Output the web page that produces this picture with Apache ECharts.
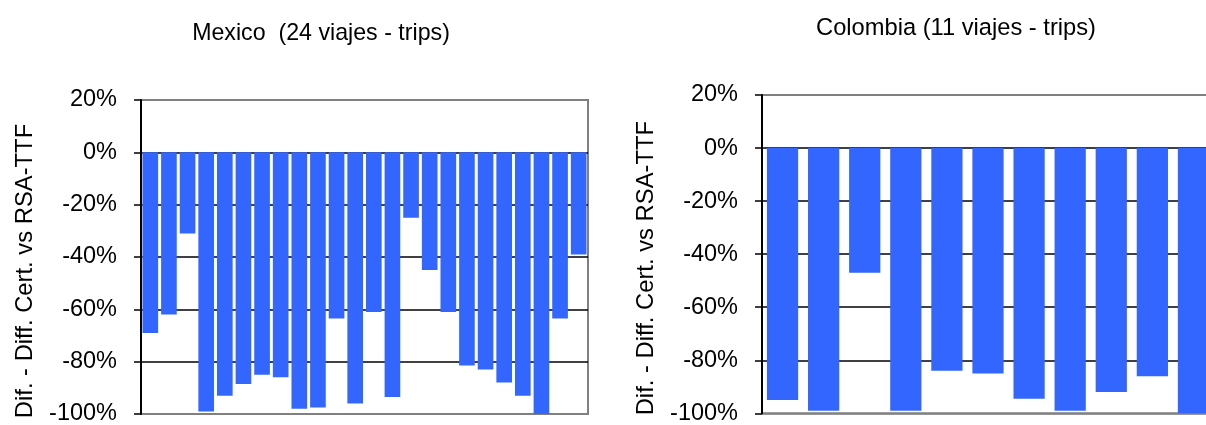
<!DOCTYPE html>
<html>
<head>
<meta charset="utf-8">
<script src="https://cdn.jsdelivr.net/npm/echarts@6/dist/echarts.min.js"></script>
<style>
html,body{margin:0;padding:0;background:#fff;}
#chart{width:1206px;height:425px;}
</style>
</head>
<body>
<div id="chart"></div>
<script>
// Data (percent)
const mexicoTrips = ['1','2','3','4','5','6','7','8','9','10','11','12','13','14','15','16','17','18','19','20','21','22','23','24'];
const mexicoValues = [-69, -62, -31, -99, -93, -88.5, -85, -86, -98, -97.5, -63.5, -96, -61, -93.5, -25, -45, -61, -81.5, -83, -88, -93, -100, -63.5, -39];
const colombiaTrips = ['1','2','3','4','5','6','7','8','9','10','11'];
const colombiaValues = [-95, -99, -47, -99, -84, -85, -94.5, -99, -92, -86, -100];
const yTicks = { min: -100, max: 20, interval: 20 };
const titles = ['Mexico  (24 viajes - trips)', 'Colombia (11 viajes - trips)'];
const yName = 'Dif. - Diff. Cert. vs RSA-TTF';

const FONT = '"Liberation Sans", Arial, sans-serif';
const BAR = '#3366FF';
const gridColors = ['#808080', '#000', '#000', '#000', '#000', '#000', '#808080'];

function yAxis(gridIndex) {
  return {
    type: 'value', gridIndex,
    min: yTicks.min, max: yTicks.max, interval: yTicks.interval,
    name: yName, nameLocation: 'middle', nameGap: 104,
    nameTextStyle: { fontFamily: FONT, fontSize: 23.8, color: '#000', padding: [0, 28, 0, 0] },
    axisLine: { show: true, lineStyle: { color: '#000', width: 2 } },
    axisTick: { show: true, length: 7, lineStyle: { color: '#000', width: 1.5 } },
    axisLabel: { margin: 24, fontFamily: FONT, fontSize: 23.5, color: '#000', formatter: '{value}%' },
    splitLine: { show: true, lineStyle: { color: gridColors, width: 1.5 } }
  };
}
function xAxis(gridIndex, data) {
  return {
    type: 'category', gridIndex, data,
    axisLine: { show: false }, axisTick: { show: false }, axisLabel: { show: false },
    splitLine: { show: false }
  };
}

const chart = echarts.init(document.getElementById('chart'), null, { renderer: 'canvas' });
chart.setOption({
  backgroundColor: '#fff',
  animation: false,
  title: [
    { text: titles[0], left: 316, top: 17, textAlign: 'center',
      textStyle: { fontFamily: FONT, fontSize: 23.2, fontWeight: 'normal', color: '#000' } },
    { text: titles[1], left: 951, top: 11, textAlign: 'center',
      textStyle: { fontFamily: FONT, fontSize: 23.7, fontWeight: 'normal', color: '#000' } }
  ],
  grid: [
    { left: 141, width: 447, top: 100, height: 314, show: true, borderColor: '#808080', borderWidth: 2,
      containLabel: false, outerBoundsMode: 'none' },
    { left: 762, width: 452, top: 95, height: 318.3, show: true, borderColor: '#808080', borderWidth: 2,
      containLabel: false, outerBoundsMode: 'none' }
  ],
  xAxis: [xAxis(0, mexicoTrips), xAxis(1, colombiaTrips)],
  yAxis: [yAxis(0), yAxis(1)],
  series: [
    { type: 'bar', xAxisIndex: 0, yAxisIndex: 0, data: mexicoValues, barCategoryGap: '16%',
      itemStyle: { color: BAR } },
    { type: 'bar', xAxisIndex: 1, yAxisIndex: 1, data: colombiaValues, barCategoryGap: '24%',
      itemStyle: { color: BAR } }
  ]
});
</script>
</body>
</html>
